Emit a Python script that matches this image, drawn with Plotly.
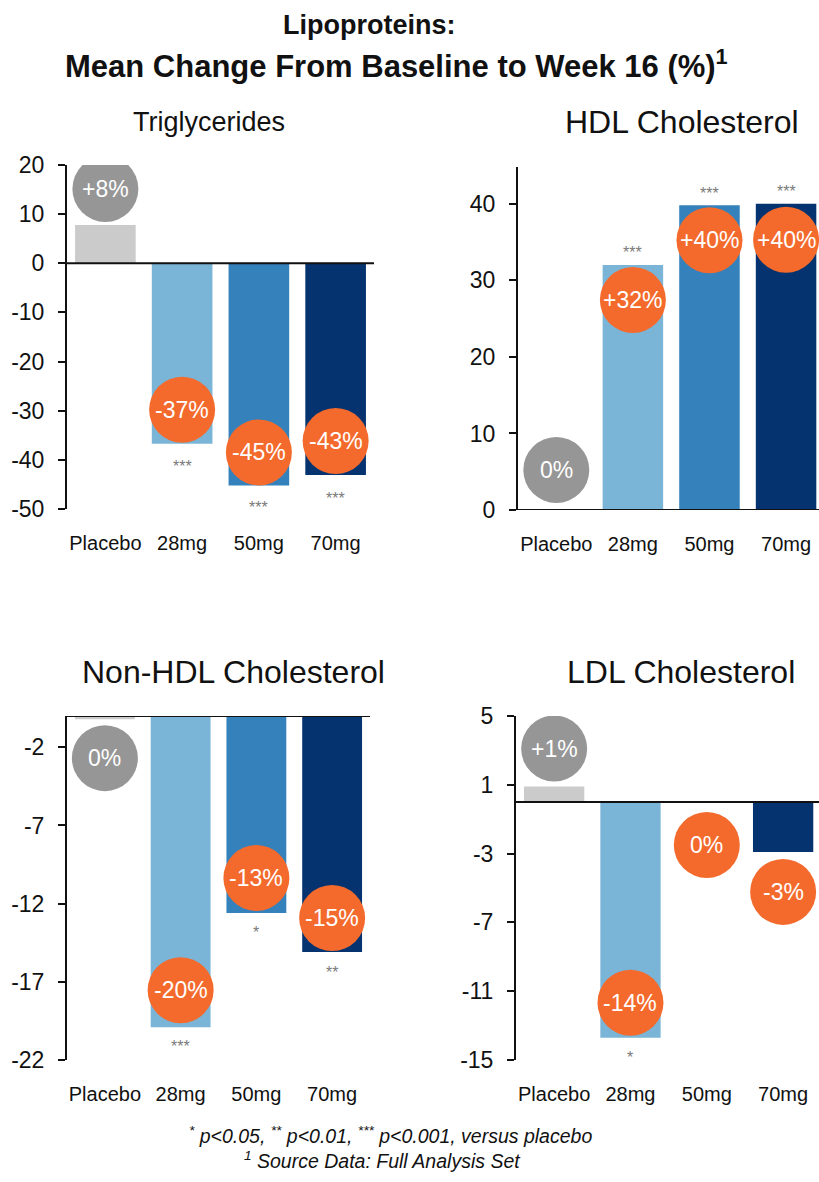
import plotly.graph_objects as go

# ---------------- data ----------------
categories = ["Placebo", "28mg", "50mg", "70mg"]

tg_values = [7.8, -36.7, -45.2, -43.1]
hdl_values = [0.0, 32.0, 39.8, 40.0]
nonhdl_values = [-0.2, -19.9, -12.6, -15.1]
ldl_values = [0.9, -13.7, 0.0, -2.9]

tg_labels = ["+8%", "-37%", "-45%", "-43%"]
hdl_labels = ["0%", "+32%", "+40%", "+40%"]
nonhdl_labels = ["0%", "-20%", "-13%", "-15%"]
ldl_labels = ["+1%", "-14%", "0%", "-3%"]

tg_sig = ["", "***", "***", "***"]
hdl_sig = ["", "***", "***", "***"]
nonhdl_sig = ["", "***", "*", "**"]
ldl_sig = ["", "*", "", ""]

tg_ticks = [20, 10, 0, -10, -20, -30, -40, -50]
hdl_ticks = [0, 10, 20, 30, 40]
nonhdl_ticks = [-2, -7, -12, -17, -22]
ldl_ticks = [5, 1, -3, -7, -11, -15]

panel_titles = ["Triglycerides", "HDL Cholesterol", "Non-HDL Cholesterol", "LDL Cholesterol"]

# ---------------- styling / layout ----------------
W, H = 819, 1182
FONT = "Liberation Sans, Arial, Helvetica, sans-serif"
bar_colors = ["#cbcbcb", "#7ab4d6", "#3481bb", "#04336f"]
circle_colors = ["#969696", "#f46a2c", "#f46a2c", "#f46a2c"]

panels = [
    dict(values=tg_values, labels=tg_labels, sig=tg_sig, ticks=tg_ticks,
         px_x=(67, 374), px_y=(165, 509), yrange=(-50, 20), xmax=3.5,
         circ_off=[36, 34, 33, 34], sig_off=[0, -19, -18, -19],
         title_xy=(209, 122), title_size=27),
    dict(values=hdl_values, labels=hdl_labels, sig=hdl_sig, ticks=hdl_ticks,
         px_x=(518, 819), px_y=(167, 510), yrange=(0, 44.8), xmax=3.43,
         circ_off=[40, -35, -35, -36], sig_off=[0, 17, 16, 16],
         title_xy=(682, 122), title_size=32),
    dict(values=nonhdl_values, labels=nonhdl_labels, sig=nonhdl_sig, ticks=nonhdl_ticks,
         px_x=(67, 370), px_y=(716, 1060), yrange=(-22, 0), xmax=3.5,
         circ_off=[-39, 37, 35, 34], sig_off=[0, -15, -15, -16],
         title_xy=(233, 672), title_size=32),
    dict(values=ldl_values, labels=ldl_labels, sig=ldl_sig, ticks=ldl_ticks,
         px_x=(516, 819), px_y=(716, 1060), yrange=(-15, 5), xmax=3.47,
         circ_off=[38, 35, -43, -40], sig_off=[0, -16, 0, 0],
         title_xy=(681, 672), title_size=32),
]

R = 33  # circle radius (px)

fig = go.Figure()
shapes = []
annotations = []
xs = list(range(len(categories)))

for i, p in enumerate(panels):
    n = "" if i == 0 else str(i + 1)
    xref, yref = "x" + n, "y" + n
    fig.add_trace(go.Bar(
        x=xs, y=p["values"], marker=dict(color=bar_colors, line=dict(width=0)),
        width=0.79, xaxis=xref, yaxis=yref, showlegend=False, hoverinfo="skip",
    ))
    x0, x1 = p["px_x"]
    y0, y1 = p["px_y"]
    fig.layout["xaxis" + n] = dict(
        domain=[x0 / W, x1 / W], range=[-0.5, p["xmax"]], anchor=yref,
        tickvals=xs, ticktext=categories, showline=False, showgrid=False,
        zeroline=False, ticks="", ticklabelstandoff=20, automargin=False,
        tickfont=dict(family=FONT, size=20, color="#111111"), fixedrange=True,
    )
    fig.layout["yaxis" + n] = dict(
        domain=[1 - y1 / H, 1 - y0 / H], range=list(p["yrange"]), anchor=xref,
        tickvals=p["ticks"], ticktext=[str(t) for t in p["ticks"]],
        showline=True, linecolor="#111111", linewidth=2, ticks="outside",
        ticklen=7, tickwidth=2, tickcolor="#111111", showgrid=False, zeroline=False,
        ticklabelstandoff=9, automargin=False,
        tickfont=dict(family=FONT, size=23, color="#111111"),
        fixedrange=True,
    )
    # zero line
    shapes.append(dict(type="line", xref=xref + " domain", yref=yref, x0=0, x1=1, y0=0, y1=0,
                       line=dict(color="#111111", width=2), layer="above"))
    for j, v in enumerate(p["values"]):
        off = p["circ_off"][j]
        shapes.append(dict(type="circle", xref=xref, yref=yref,
                           xsizemode="pixel", ysizemode="pixel",
                           xanchor=xs[j], yanchor=v,
                           x0=-R, x1=R, y0=off - R, y1=off + R,
                           fillcolor=circle_colors[j], line=dict(width=0), layer="above"))
        annotations.append(dict(x=xs[j], y=v, xref=xref, yref=yref, yshift=off,
                                text=p["labels"][j], showarrow=False,
                                font=dict(family=FONT, size=23, color="white"),
                                xanchor="center", yanchor="middle"))
        if p["sig"][j]:
            annotations.append(dict(x=xs[j], y=v, xref=xref, yref=yref,
                                    yshift=p["sig_off"][j] - 4,
                                    text=p["sig"][j], showarrow=False,
                                    font=dict(family=FONT, size=16, color="#7a7a7a"),
                                    xanchor="center", yanchor="middle"))
    tx, ty = p["title_xy"]
    annotations.append(dict(x=tx / W, y=1 - ty / H, xref="paper", yref="paper",
                            text=panel_titles[i], showarrow=False,
                            font=dict(family=FONT, size=p["title_size"], color="#111111"),
                            xanchor="center", yanchor="middle"))

# main title
annotations.append(dict(x=369 / W, y=1 - 25 / H, xref="paper", yref="paper",
                        text="<b>Lipoproteins:</b>", showarrow=False,
                        font=dict(family=FONT, size=27, color="#111111"),
                        xanchor="center", yanchor="middle"))
annotations.append(dict(x=396 / W, y=1 - 64 / H, xref="paper", yref="paper",
                        text="<b>Mean Change From Baseline to Week 16 (%)<sup>1</sup></b>",
                        showarrow=False,
                        font=dict(family=FONT, size=31, color="#111111"),
                        xanchor="center", yanchor="middle"))
# footnotes
annotations.append(dict(x=390 / W, y=1 - 1135 / H, xref="paper", yref="paper",
                        text="<sup>*</sup> p&lt;0.05, <sup>**</sup> p&lt;0.01, <sup>***</sup> p&lt;0.001, versus placebo",
                        showarrow=False,
                        font=dict(family=FONT, size=19.5, color="#111111", style="italic"),
                        xanchor="center", yanchor="middle"))
annotations.append(dict(x=382 / W, y=1 - 1160 / H, xref="paper", yref="paper",
                        text="<sup>1</sup> Source Data: Full Analysis Set",
                        showarrow=False,
                        font=dict(family=FONT, size=19.5, color="#111111", style="italic"),
                        xanchor="center", yanchor="middle"))

fig.update_layout(
    width=W, height=H, margin=dict(l=0, r=0, t=0, b=0, autoexpand=False),
    paper_bgcolor="white", plot_bgcolor="white",
    shapes=shapes, annotations=annotations, bargap=0.2, showlegend=False,
)

fix_page = (
    "document.body.style.margin='0';"
    "document.body.style.overflow='hidden';"
    "var gd=document.getElementById('{plot_id}');"
    "gd.style.position='absolute';gd.style.left='0px';gd.style.top='0px';"
)

fig.write_html("out.html", config=dict(displayModeBar=False), post_script=fix_page)
